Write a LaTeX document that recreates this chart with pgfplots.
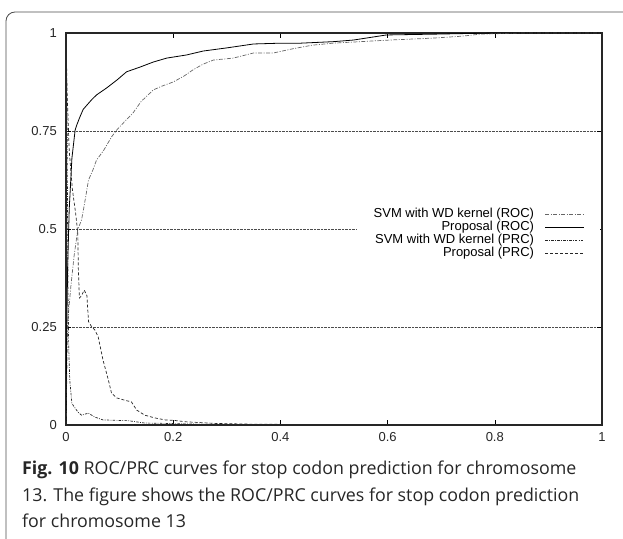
\documentclass[border=0pt]{standalone}
\usepackage{fontspec}
\setmainfont{Liberation Sans}
\newfontfamily\capfont{Open Sans}
\usepackage{pgfplots}
\pgfplotsset{compat=1.18}
\begin{document}
\begin{tikzpicture}[x=1pt,y=1pt]
\begin{axis}[
  at={(66pt,113pt)}, anchor=south west,
  scale only axis, width=536pt, height=392pt,
  xmin=0, xmax=1, ymin=0, ymax=1,
  xtick={0,0.2,0.4,0.6,0.8,1},
  ytick={0,0.25,0.5,0.75,1},
  xticklabels={0,0.2,0.4,0.6,0.8,1},
  yticklabels={0,0.25,0.5,0.75,1},
  tick align=inside, major tick length=5pt,
  tick style={black, line width=0.6pt},
  axis line style={line width=1.2pt, black!85},
  ymajorgrids, grid style={densely dotted, black!70, line width=0.5pt},
  tick label style={font=\fontsize{13}{13}\selectfont, inner sep=0pt, text=black!85},
  /pgf/number format/assume math mode=true,
  yticklabel style={xshift=-9pt},
  xticklabel style={yshift=-7pt},
  legend style={draw=none, fill=white, at={(axis description cs:0.9963,0.562)}, anchor=north east,
    inner xsep=15pt, inner ysep=3pt,
    font=\fontsize{13}{13}\selectfont,
    nodes={inner ysep=0pt, text height=9.5pt, text depth=3.5pt},
    /tikz/every odd column/.append style={column sep=9pt}},
  legend cell align=right, legend plot pos=right,
  legend image code/.code={\draw[#1] (0pt,0pt) -- (39pt,0pt);},
]
\addplot[black!60, line width=0.7pt, dash pattern=on 4pt off 1.5pt on 1pt off 1.5pt] coordinates {
(0,0) (0.003,0.26) (0.009,0.353) (0.015,0.43) (0.022,0.499) (0.029,0.523) (0.034,0.56) (0.042,0.625) (0.05,0.65) (0.057,0.676) (0.07,0.7) (0.085,0.735) (0.095,0.753) (0.11,0.775) (0.125,0.796) (0.14,0.825) (0.163,0.855) (0.18,0.865) (0.2,0.875) (0.22,0.89) (0.237,0.906) (0.255,0.92) (0.275,0.931) (0.312,0.936) (0.35,0.949) (0.387,0.949) (0.424,0.96) (0.46,0.969) (0.498,0.974) (0.55,0.978) (0.604,0.982) (0.685,0.987) (0.74,0.992) (0.772,0.997) (0.85,1) (1,1)
};
\addlegendentry{SVM with WD kernel (ROC)}
\addplot[black, line width=0.8pt] coordinates {
(0,0) (0.001,0.2) (0.003,0.4) (0.006,0.55) (0.011,0.68) (0.017,0.752) (0.02,0.765) (0.026,0.786) (0.032,0.805) (0.039,0.816) (0.048,0.83) (0.057,0.842) (0.076,0.86) (0.095,0.88) (0.113,0.901) (0.138,0.913) (0.163,0.926) (0.188,0.936) (0.225,0.944) (0.256,0.954) (0.3,0.962) (0.35,0.972) (0.4,0.974) (0.437,0.974) (0.5,0.978) (0.536,0.982) (0.598,0.995) (0.685,0.997) (0.8,1) (1,1)
};
\addlegendentry{Proposal (ROC)}
\addplot[black!85, line width=0.7pt, dash pattern=on 2.5pt off 1.3pt on 0.8pt off 1.3pt] coordinates {
(0,1) (0.002,0.8) (0.003,0.5) (0.004,0.32) (0.005,0.2) (0.007,0.115) (0.011,0.055) (0.017,0.043) (0.023,0.032) (0.029,0.025) (0.036,0.028) (0.042,0.03) (0.054,0.02) (0.069,0.013) (0.09,0.012) (0.116,0.011) (0.147,0.005) (0.187,0.004) (0.25,0.002) (0.4,0.001) (0.6,0) (1,0)
};
\addlegendentry{SVM with WD kernel (PRC)}
\addplot[black!85, line width=0.7pt, dash pattern=on 3pt off 2pt] coordinates {
(0,1) (0.002,0.85) (0.006,0.7) (0.012,0.6) (0.018,0.54) (0.022,0.49) (0.023,0.40) (0.025,0.324) (0.029,0.33) (0.034,0.344) (0.039,0.33) (0.042,0.264) (0.048,0.25) (0.054,0.242) (0.06,0.225) (0.069,0.166) (0.079,0.115) (0.085,0.081) (0.095,0.069) (0.11,0.063) (0.122,0.059) (0.132,0.038) (0.147,0.025) (0.166,0.018) (0.185,0.013) (0.2,0.012) (0.225,0.008) (0.28,0.004) (0.35,0.002) (0.5,0.001) (0.7,0) (1,0)
};
\addlegendentry{Proposal (PRC)}
\end{axis}
\draw[black!70, line width=0.8pt, rounded corners=9pt] (6,-20) -- (6,526) -- (660,526);
\node[anchor=base west, inner sep=0pt, font=\capfont\fontsize{17.8}{17.8}\selectfont, text=black!85] at (22,63.7) {\textbf{Fig. 10} ROC/PRC curves for stop codon prediction for chromosome};
\node[anchor=base west, inner sep=0pt, font=\capfont\fontsize{17.8}{17.8}\selectfont, text=black!85] at (22,36.7) {13. The figure shows the ROC/PRC curves for stop codon prediction};
\node[anchor=base west, inner sep=0pt, font=\capfont\fontsize{17.8}{17.8}\selectfont, text=black!85] at (22,10.3) {for chromosome 13};
\pgfresetboundingbox
\useasboundingbox (0,0) rectangle (623,538);
\end{tikzpicture}
\end{document}
